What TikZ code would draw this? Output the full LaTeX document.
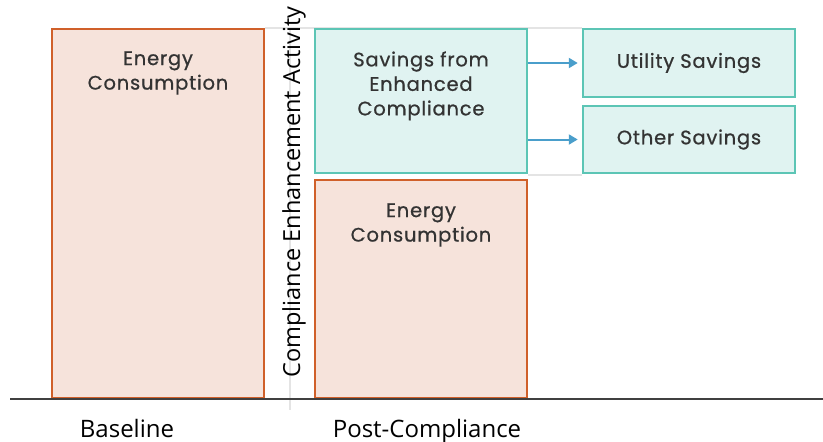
\documentclass[tikz,border=0pt]{standalone}
\usepackage{fontspec}
\setmainfont{Open Sans}
\newfontfamily\boxfont[FakeBold=0.8,LetterSpace=4]{Poppins}
\usetikzlibrary{arrows.meta,positioning}
\definecolor{rust}{HTML}{D0602A}
\definecolor{rustfill}{HTML}{F6E3DB}
\definecolor{teal}{HTML}{5CC5B5}
\definecolor{tealfill}{HTML}{E0F3F1}
\definecolor{arrowblue}{HTML}{4A9ECB}
\definecolor{inkgray}{HTML}{333333}
\definecolor{gridgray}{HTML}{E4E4E4}
\tikzset{
  usagebox/.style={draw=rust, fill=rustfill, line width=2.5pt, minimum width=212pt, inner sep=0pt},
  savebox/.style={draw=teal, fill=tealfill, line width=2.5pt, inner sep=0pt},
  boxtext/.style={font=\boxfont\fontsize{19.5}{24.5}\selectfont, text=inkgray, align=center, anchor=north, inner sep=0pt},
  axistext/.style={font=\fontsize{24}{26}\selectfont, text=black, anchor=base},
  flowarrow/.style={draw=arrowblue, line width=2pt, -{Triangle[length=9pt,width=10pt]}}
}
\begin{document}
\begin{tikzpicture}[x=1pt, y=-1pt]
		%%%%% START %%%%%
		\useasboundingbox (0,0) rectangle (823,442);
		
		% faint grid lines
		\draw[gridgray, line width=1.2pt] (265,28) -- (582,28);
		\draw[gridgray, line width=1.2pt] (528,175) -- (582,175);
		\draw[gridgray, line width=1.2pt] (290,28) -- (290,410);
		
		% bars
		\node[usagebox, minimum height=369pt] (baseline) at (158,213.5) {};
		\node[usagebox, minimum height=218pt] (postuse) at (421,289) {};
		\node[savebox, minimum width=212pt, minimum height=144pt] (savings) at (421,101) {};
		\node[savebox, minimum width=212pt, minimum height=68pt] (utility) at (689,63) {};
		\node[savebox, minimum width=212pt, minimum height=67pt] (other) at (689,139.5) {};
		
		% texts in the bars
		\node[boxtext] at ([yshift=-23.5pt]baseline.north) {Energy\\Consumption};
		\node[boxtext] at ([yshift=-24.5pt]postuse.north) {Energy\\Consumption};
		\node[boxtext] at ([yshift=-23.5pt]savings.north) {Savings from\\Enhanced\\Compliance};
		\node[boxtext, anchor=center] at (utility.center) {Utility Savings};
		\node[boxtext, anchor=center] at (other.center) {Other Savings};
		
		% arrows
		\draw[flowarrow] (savings.east |- utility.west) -- ([xshift=-4pt]utility.west);
		\draw[flowarrow] (savings.east |- other.west) -- ([xshift=-4pt]other.west);
		
		% axis and labels
		\draw[line width=2pt, draw=black!75] (10,399) -- (823,399);
		\node[font=\fontsize{23.5}{26}\selectfont, rotate=90, anchor=center] (activity) at (294,192) {Compliance Enhancement Activity};
		\node[axistext] (base) at (127,437) {Baseline};
		\node[axistext] (post) at (427,437) {Post-Compliance};
		
		%%%%% END %%%%%
	\end{tikzpicture}
\end{document}
